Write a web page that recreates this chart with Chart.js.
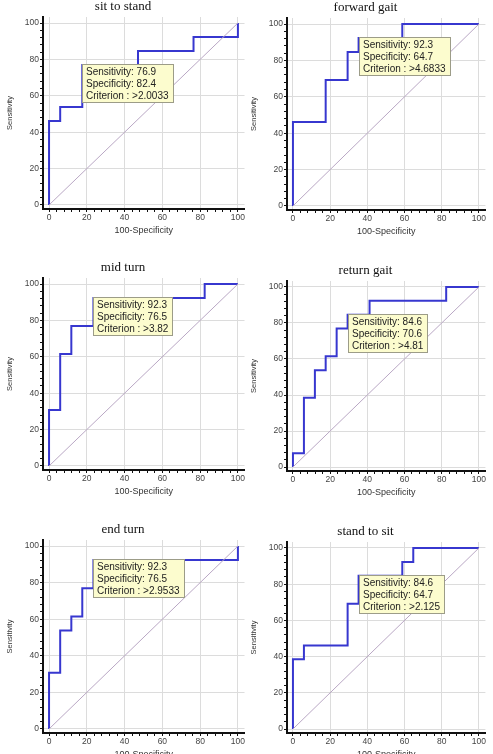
<!DOCTYPE html>
<html>
<head>
<meta charset="utf-8">
<script src="https://cdn.jsdelivr.net/npm/chart.js@4.4.0/dist/chart.umd.min.js"></script>
<style>
html, body { margin:0; padding:0; background:#fff; overflow:hidden; width:493px; height:754px; }
.panel { position:absolute; }
</style>
</head>
<body>
<div id="paineis"></div>
<script>
// ---------------- dados das curvas ROC ----------------
const titulos = ['sit to stand', 'forward gait', 'mid turn', 'return gait', 'end turn', 'stand to sit'];

// pontos (100-Specificity, Sensitivity) de cada curva
const sitToStandX   = [0, 0, 5.9, 17.6, 47.1, 76.5, 100];
const sitToStandY   = [0, 46.2, 53.8, 76.9, 84.6, 92.3, 100];
const forwardGaitX  = [0, 0, 17.6, 29.4, 35.3, 58.8, 100];
const forwardGaitY  = [0, 46.2, 69.2, 84.6, 92.3, 100, 100];
const midTurnX      = [0, 0, 5.9, 11.8, 23.5, 82.4, 100];
const midTurnY      = [0, 30.8, 61.5, 76.9, 92.3, 100, 100];
const returnGaitX   = [0, 0, 5.9, 11.8, 17.6, 23.5, 29.4, 41.2, 82.4, 100];
const returnGaitY   = [0, 7.7, 38.5, 53.8, 61.5, 76.9, 84.6, 92.3, 100, 100];
const endTurnX      = [0, 0, 5.9, 11.8, 17.6, 23.5, 100];
const endTurnY      = [0, 30.8, 53.8, 61.5, 76.9, 92.3, 100];
const standToSitX   = [0, 0, 5.9, 29.4, 35.3, 58.8, 64.7, 100];
const standToSitY   = [0, 38.5, 46.2, 69.2, 84.6, 92.3, 100, 100];

const curvasX = [sitToStandX, forwardGaitX, midTurnX, returnGaitX, endTurnX, standToSitX];
const curvasY = [sitToStandY, forwardGaitY, midTurnY, returnGaitY, endTurnY, standToSitY];

const sensibilidade = [76.9, 92.3, 92.3, 84.6, 92.3, 84.6];
const especificidade = [82.4, 64.7, 76.5, 70.6, 76.5, 64.7];
const criterio = ['>2.0033', '>4.6833', '>3.82', '>4.81', '>2.9533', '>2.125'];

const diagonalX = [0, 100];
const diagonalY = [0, 100];

const ticksPrincipais = [0, 20, 40, 60, 80, 100];

// ---------------- layout dos paineis ----------------
const posicoes = [
    { left: 0,   top: -3,  w: 246, h: 242 },
    { left: 244, top: -2,  w: 243, h: 242 },
    { left: 0,   top: 258, w: 246, h: 242 },
    { left: 244, top: 261, w: 243, h: 240 },
    { left: 0,   top: 520, w: 246, h: 243 },
    { left: 244, top: 522, w: 243, h: 241 }
];

const fonteSans = '"Liberation Sans", Arial, sans-serif';

// caixa amarela com os valores do criterio
const caixaCriterio = {
    id: 'caixaCriterio',
    afterDatasetsDraw(chart, args, opts) {
        const i = opts.painel;
        const ctx = chart.ctx;
        const px = Math.round(chart.scales.x.getPixelForValue(100 - especificidade[i]));
        const py = Math.round(chart.scales.y.getPixelForValue(sensibilidade[i])) - 1;
        const linhas = [
            'Sensitivity: ' + sensibilidade[i].toFixed(1),
            'Specificity: ' + especificidade[i].toFixed(1),
            'Criterion : ' + criterio[i]
        ];
        ctx.save();
        ctx.font = '10px ' + fonteSans;
        const w = Math.round(Math.max(...linhas.map(l => ctx.measureText(l).width)) + 8);
        const h = 38;
        ctx.fillStyle = '#fcfcce';
        ctx.fillRect(px, py, w, h);
        ctx.strokeStyle = '#9c9c88';
        ctx.lineWidth = 1;
        ctx.strokeRect(px + 0.5, py + 0.5, w, h);
        ctx.fillStyle = '#222';
        ctx.textBaseline = 'middle';
        linhas.forEach((l, k) => ctx.fillText(l, px + 4, py + 8 + k * 12.2));
        ctx.restore();
    }
};

function ticksMenores(scale) {
    const t = [];
    for (let v = 0; v <= 100; v += 4) t.push({ value: v });
    scale.ticks = t;
}

function eixo(titulo, tamanhoTitulo) {
    return {
        type: 'linear',
        afterBuildTicks: ticksMenores,
        ticks: {
            autoSkip: false,
            maxRotation: 0,
            padding: 1,
            color: '#444',
            font: { family: fonteSans, size: 8.5 },
            callback: v => ticksPrincipais.includes(v) ? v : ''
        },
        grid: {
            color: c => (c.tick && ticksPrincipais.includes(c.tick.value)) ? '#dcdcdc' : 'rgba(0,0,0,0)',
            tickColor: '#111',
            tickLength: 3,
            lineWidth: 1
        },
        border: { display: true, color: '#111', width: 2 },
        title: {
            display: true,
            text: titulo,
            color: '#333',
            font: { family: fonteSans, size: tamanhoTitulo },
            padding: { top: 5, bottom: 3 }
        }
    };
}

function criarGrafico(i) {
    const p = posicoes[i];
    const div = document.createElement('div');
    div.className = 'panel';
    div.style.left = p.left + 'px';
    div.style.top = p.top + 'px';
    div.style.width = p.w + 'px';
    div.style.height = p.h + 'px';
    const canvas = document.createElement('canvas');
    canvas.width = p.w;
    canvas.height = p.h;
    div.appendChild(canvas);
    document.getElementById('paineis').appendChild(div);

    const eixoX = eixo('100-Specificity', 9);
    eixoX.min = -3.2; eixoX.max = 103.5;
    eixoX.afterFit = s => { s.height = 30; };
    const eixoY = eixo('Sensitivity', 7.5);
    eixoY.min = -2.2; eixoY.max = 103.3;
    eixoY.afterFit = s => { s.width = 43; };

    new Chart(canvas, {
        type: 'line',
        data: {
            datasets: [
                {
                    data: diagonalX.map((x, k) => ({ x: x, y: diagonalY[k] })),
                    borderColor: '#b9a7c4',
                    borderWidth: 1,
                    pointRadius: 0
                },
                {
                    data: curvasX[i].map((x, k) => ({ x: x, y: curvasY[i][k] })),
                    borderColor: '#3737cf',
                    borderWidth: 2,
                    pointRadius: 0,
                    stepped: 'before'
                }
            ]
        },
        options: {
            responsive: false,
            devicePixelRatio: 1,
            animation: false,
            layout: { padding: 0 },
            plugins: {
                legend: { display: false },
                tooltip: { enabled: false },
                title: {
                    display: true,
                    text: titulos[i],
                    color: '#111',
                    font: { family: '"Liberation Serif", "Times New Roman", serif', size: 13, weight: 'normal' },
                    padding: { top: 2, bottom: 2.4 }
                },
                caixaCriterio: { painel: i }
            },
            scales: { x: eixoX, y: eixoY }
        },
        plugins: [caixaCriterio]
    });
}

document.addEventListener('DOMContentLoaded', () => {
    for (let i = 0; i < titulos.length; i++) criarGrafico(i);
});
</script>
</body>
</html>
